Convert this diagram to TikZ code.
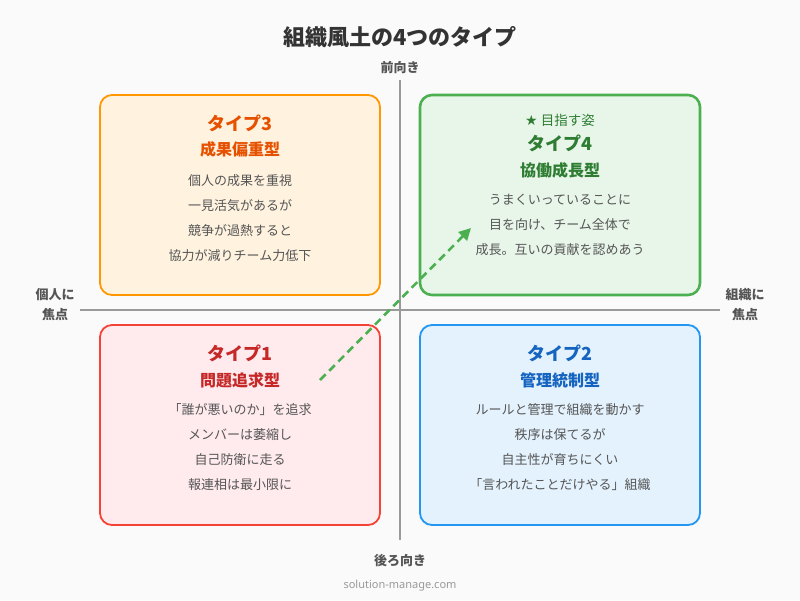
\documentclass[tikz,border=0pt]{standalone}
\usepackage{fontspec}
\setmainfont{Noto Sans CJK JP}
\newfontfamily\latinfont{Noto Sans}
\usetikzlibrary{arrows.meta}
\definecolor{bgc}{HTML}{FAFAFA}
\definecolor{axisc}{HTML}{999999}
\definecolor{labc}{HTML}{555555}
\definecolor{bodyc}{HTML}{555555}
\definecolor{titlec}{HTML}{333333}
\definecolor{footc}{HTML}{999999}
\definecolor{oB}{HTML}{FF9800}\definecolor{oF}{HTML}{FFF3E0}\definecolor{oT}{HTML}{E65100}
\definecolor{gB}{HTML}{4CAF50}\definecolor{gF}{HTML}{E8F5E9}\definecolor{gT}{HTML}{2E7D32}
\definecolor{rB}{HTML}{F44336}\definecolor{rF}{HTML}{FFEBEE}\definecolor{rT}{HTML}{C62828}
\definecolor{bB}{HTML}{2196F3}\definecolor{bF}{HTML}{E3F2FD}\definecolor{bT}{HTML}{1565C0}
\tikzset{
  quad/.style={rounded corners=12pt, line width=1.8pt},
  typet/.style={font=\bfseries\fontsize{18}{21}\selectfont, anchor=center},
  subt/.style={font=\bfseries\fontsize{16}{19}\selectfont, anchor=center},
  bodyt/.style={font=\fontsize{13}{15}\selectfont, text=bodyc, anchor=center},
  axislab/.style={font=\bfseries\fontsize{13}{20}\selectfont, text=labc, align=center, anchor=center},
  axisline/.style={draw=axisc, line width=1.5pt}
}
\begin{document}
\begin{tikzpicture}[x=1pt,y=-1pt]
\fill[bgc] (0,0) rectangle (800,600);
\useasboundingbox (0,0) rectangle (800,600);

% title
\node[font=\bfseries\fontsize{22}{26}\selectfont, text=titlec] (title) at (400,37) {組織風土の4つのタイプ};

% axes
\coordinate (vtop) at (400,80);
\coordinate (vbot) at (400,540);
\coordinate (hleft) at (80,310);
\coordinate (hright) at (720,310);
\draw[axisline] (vtop) -- (vbot);
\draw[axisline] (hleft) -- (hright);
\node[axislab] (front) at (400,68) {前向き};
\node[axislab] (back) at (400,561) {後ろ向き};
\node[axislab] (indiv) at (55,305) {個人に\\焦点};
\node[axislab] (org) at (745,305) {組織に\\焦点};

% boxes
\draw[quad, draw=oB, fill=oF] (100,95) rectangle (380,295);
\draw[quad, draw=gB, fill=gF, line width=2.6pt] (420,95) rectangle (700,295);
\draw[quad, draw=rB, fill=rF] (100,325) rectangle (380,525);
\draw[quad, draw=bB, fill=bF] (420,325) rectangle (700,525);

% type 3
\node[typet, text=oT] (t3) at (240,123) {タイプ3};
\node[subt, text=oT] (s3) at (240,149) {成果偏重型};
\node[bodyt] (b3a) at (240,181) {個人の成果を重視};
\node[bodyt] (b3b) at (240,206) {一見活気があるが};
\node[bodyt] (b3c) at (240,231) {競争が過熱すると};
\node[bodyt] (b3d) at (240,256) {協力が減りチーム力低下};

% type 4
\node[font=\fontsize{13.5}{15}\selectfont, text=gT] (goal) at (560,120) {{\fontspec{DejaVu Sans}\fontsize{14}{15}\selectfont ★} 目指す姿};
\node[typet, text=gT] (t4) at (560,143) {タイプ4};
\node[subt, text=gT] (s4) at (560,170) {協働成長型};
\node[bodyt] (b4a) at (560,200) {うまくいっていることに};
\node[bodyt] (b4b) at (560,225) {目を向け、チーム全体で};
\node[bodyt] (b4c) at (560,250) {成長。互いの貢献を認めあう};

% type 1
\node[typet, text=rT] (t1) at (240,353) {タイプ1};
\node[subt, text=rT] (s1) at (240,380) {問題追求型};
\node[bodyt] (b1a) at (240,410) {「誰が悪いのか」を追求};
\node[bodyt] (b1b) at (240,435) {メンバーは萎縮し};
\node[bodyt] (b1c) at (240,460) {自己防衛に走る};
\node[bodyt] (b1d) at (240,485) {報連相は最小限に};

% type 2
\node[typet, text=bT] (t2) at (560,353) {タイプ2};
\node[subt, text=bT] (s2) at (560,380) {管理統制型};
\node[bodyt] (b2a) at (560,410) {ルールと管理で組織を動かす};
\node[bodyt] (b2b) at (560,435) {秩序は保てるが};
\node[bodyt] (b2c) at (560,460) {自主性が育ちにくい};
\node[bodyt] (b2d) at (560,485) {「言われたことだけやる」組織};

% arrow
\coordinate (astart) at (320,380);
\coordinate (aend) at (471,228);
\draw[draw=gB, line width=2.6pt, dash pattern=on 8pt off 5pt, -{Triangle[length=12pt,width=12pt]}] (astart) -- (aend);

% footer
\node[font=\latinfont\fontsize{11}{13}\selectfont, text=footc] (foot) at (400,586) {solution-manage.com};
\end{tikzpicture}
\end{document}
